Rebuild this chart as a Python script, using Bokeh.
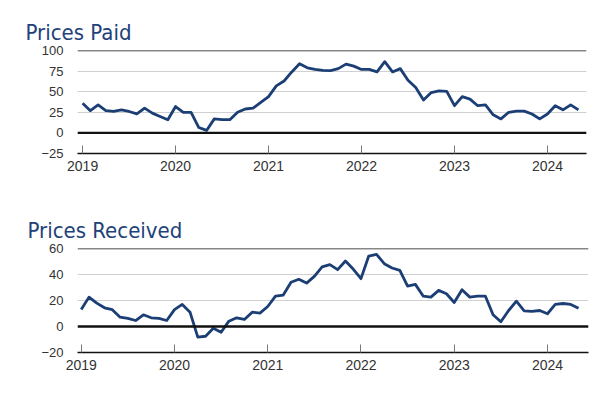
from bokeh.plotting import figure
from bokeh.layouts import column
from bokeh.models import Span, FixedTicker, CustomJSTickFormatter
from bokeh.embed import file_html
from bokeh.resources import INLINE

start_year = 2019
year_ticks = [2019, 2020, 2021, 2022, 2023, 2024]

prices_paid = [36, 27, 34, 27, 26, 28, 26, 23, 30, 24, 20, 16,
               32, 25, 25, 6.5, 3, 17, 16, 16, 25, 29, 30, 37,
               44, 57, 63, 74, 84, 79, 77, 76, 75.5, 78, 83.5, 81,
               77, 77, 74, 86.5, 74, 78, 64, 55, 40, 49, 51, 50.5,
               33, 44, 41, 33, 34, 22, 17, 25, 26.5, 26.5, 23, 17,
               23, 33, 28, 34, 28]

prices_received = [13, 22.6, 18, 14.4, 12.9, 7.2, 6.2, 4.6, 9, 6.7, 6.2, 4.6,
                   13, 17, 11, -8.2, -7.5, -1.3, -4.4, 4.1, 6.7, 5.4, 11, 10.3,
                   15.4, 23.4, 24.2, 34, 36.3, 33.4, 38.6, 45.8, 47.6, 43.7, 50.4, 44.2,
                   36.8, 54.2, 55.5, 48.3, 45, 43.2, 31.1, 32.4, 23.4, 22.6, 27.8, 25.2,
                   18.5, 28.3, 22.6, 23.4, 23.4, 9, 3.6, 12.3, 19.5, 12, 11.6, 12.3,
                   9.8, 17, 17.7, 17, 14.1]

LINE = "#1b3e75"
TITLE = "#1e4179"
FONT = "DejaVu Sans Condensed"
TICKFONT = "Liberation Sans"


def make_panel(title, values, y_range, y_ticks, top_border, bottom_border, left_border,
               fw, fh, x0, x1, title_offset):
    x = [start_year + i / 12 for i in range(len(values))]
    p = figure(frame_width=fw, frame_height=fh, output_backend="svg", toolbar_location=None,
               x_range=(x0, x1), y_range=y_range,
               min_border_top=top_border, min_border_bottom=bottom_border,
               min_border_left=left_border, min_border_right=15)
    p.title.text = title
    p.title.text_font = FONT
    p.title.text_font_size = "22px"
    p.title.text_font_style = "normal"
    p.title.text_color = TITLE
    p.title.offset = title_offset
    p.title.standoff = 12
    p.outline_line_color = None
    p.background_fill_color = "white"
    p.border_fill_color = "white"

    p.line(x, values, line_color=LINE, line_width=2.8, line_join="round")

    p.xgrid.grid_line_color = None
    p.ygrid.ticker = FixedTicker(ticks=y_ticks)
    p.ygrid.grid_line_color = "#d0d0d0"
    p.ygrid.grid_line_width = 1

    p.add_layout(Span(location=y_ticks[-1], dimension="width", line_color="#111111", line_width=1.3))
    p.add_layout(Span(location=0, dimension="width", line_color="#111111", line_width=2.4))

    p.yaxis.ticker = FixedTicker(ticks=y_ticks)
    p.yaxis.axis_line_color = None
    p.yaxis.major_tick_line_color = None
    p.yaxis.minor_tick_line_color = None
    p.yaxis.major_label_text_font = TICKFONT
    p.yaxis.major_label_text_font_size = "13px"
    p.yaxis.major_label_text_color = "#333333"
    p.yaxis.major_label_standoff = 8

    p.xaxis.ticker = FixedTicker(ticks=year_ticks)
    p.xaxis.formatter = CustomJSTickFormatter(code="return tick.toFixed(0);")
    p.xaxis.axis_line_color = "#111111"
    p.xaxis.axis_line_width = 1.3
    p.xaxis.major_tick_in = 8
    p.xaxis.major_tick_out = 0
    p.xaxis.major_tick_line_color = "#777777"
    p.xaxis.minor_tick_line_color = None
    p.xaxis.major_label_text_font = TICKFONT
    p.xaxis.major_label_text_font_size = "14px"
    p.xaxis.major_label_text_color = "#333333"
    p.xaxis.major_label_standoff = 7
    return p


p1 = make_panel("Prices Paid", prices_paid, (-25, 100), [-25, 0, 25, 50, 75, 100],
                50, 45, 77, 509, 103, 2018.945, 2024.42, -52)
p2 = make_panel("Prices Received", prices_received, (-20, 60), [-20, 0, 20, 40, 60],
                50, 40, 75, 511, 104, 2018.96, 2024.44, -50)

layout = column(p1, p2, spacing=0)
open("out.html", "w").write(file_html(layout, INLINE))
